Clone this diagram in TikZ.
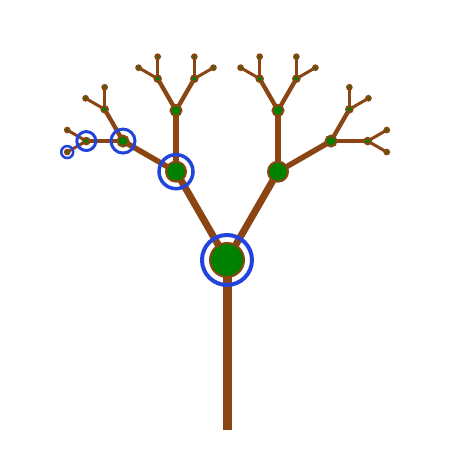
\documentclass[tikz,border=0pt]{standalone}
\usetikzlibrary{calc,backgrounds}
\definecolor{bark}{RGB}{139,69,19}
\definecolor{leafg}{RGB}{0,128,0}
\definecolor{ringb}{RGB}{34,68,221}
\begin{document}
\begin{tikzpicture}[x=1pt,y=1pt,
  knot/.style={circle,fill=leafg,draw=bark,inner sep=0pt},
  k0/.style={knot,minimum size=34pt,line width=2pt},
  k1/.style={knot,minimum size=20pt,line width=2pt},
  k2/.style={knot,minimum size=11pt,line width=2pt},
  k3/.style={knot,minimum size=6.5pt,line width=2pt},
  k4/.style={knot,minimum size=4.6pt,line width=2pt},
  br/.style={draw=bark,line cap=butt},
  b0/.style={br,line width=9pt},
  b1/.style={br,line width=7pt},
  b2/.style={br,line width=5.5pt},
  b3/.style={br,line width=4.3pt},
  b4/.style={br,line width=3pt},
  ring/.style={draw=ringb}]
\useasboundingbox (0,0) rectangle (457,448);
\coordinate (base) at (227,18);
% nodes
\node[k0] (n) at (227,188) {};
\node[k1] (nL) at ($(n)+(120:102)$) {};
\node[k1] (nR) at ($(n)+(60:102)$) {};
\node[k2] (nLL) at ($(nL)+(150:61.2)$) {};
\node[k2] (nLR) at ($(nL)+(90:61.2)$) {};
\node[k2] (nRL) at ($(nR)+(90:61.2)$) {};
\node[k2] (nRR) at ($(nR)+(30:61.2)$) {};
\node[k3] (nLLL) at ($(nLL)+(180:36.7)$) {};
\node[k3] (nLLR) at ($(nLL)+(120:36.7)$) {};
\node[k3] (nLRL) at ($(nLR)+(120:36.7)$) {};
\node[k3] (nLRR) at ($(nLR)+(60:36.7)$) {};
\node[k3] (nRLL) at ($(nRL)+(120:36.7)$) {};
\node[k3] (nRLR) at ($(nRL)+(60:36.7)$) {};
\node[k3] (nRRL) at ($(nRR)+(60:36.7)$) {};
\node[k3] (nRRR) at ($(nRR)+(0:36.7)$) {};
\node[k4] (nLLLL) at ($(nLLL)+(210:22)$) {};
\node[k4] (nLLLR) at ($(nLLL)+(150:22)$) {};
\node[k4] (nLLRL) at ($(nLLR)+(150:22)$) {};
\node[k4] (nLLRR) at ($(nLLR)+(90:22)$) {};
\node[k4] (nLRLL) at ($(nLRL)+(150:22)$) {};
\node[k4] (nLRLR) at ($(nLRL)+(90:22)$) {};
\node[k4] (nLRRL) at ($(nLRR)+(90:22)$) {};
\node[k4] (nLRRR) at ($(nLRR)+(30:22)$) {};
\node[k4] (nRLLL) at ($(nRLL)+(150:22)$) {};
\node[k4] (nRLLR) at ($(nRLL)+(90:22)$) {};
\node[k4] (nRLRL) at ($(nRLR)+(90:22)$) {};
\node[k4] (nRLRR) at ($(nRLR)+(30:22)$) {};
\node[k4] (nRRLL) at ($(nRRL)+(90:22)$) {};
\node[k4] (nRRLR) at ($(nRRL)+(30:22)$) {};
\node[k4] (nRRRL) at ($(nRRR)+(30:22)$) {};
\node[k4] (nRRRR) at ($(nRRR)+(-30:22)$) {};
% branches behind the nodes
\begin{scope}[on background layer]
\fill[white] (0,0) rectangle (457,448);
\draw[b0] (base) -- (n.center);
\draw[b1] (n.center) -- (nL.center);
\draw[b1] (n.center) -- (nR.center);
\draw[b2] (nL.center) -- (nLL.center);
\draw[b2] (nL.center) -- (nLR.center);
\draw[b2] (nR.center) -- (nRL.center);
\draw[b2] (nR.center) -- (nRR.center);
\draw[b3] (nLL.center) -- (nLLL.center);
\draw[b3] (nLL.center) -- (nLLR.center);
\draw[b3] (nLR.center) -- (nLRL.center);
\draw[b3] (nLR.center) -- (nLRR.center);
\draw[b3] (nRL.center) -- (nRLL.center);
\draw[b3] (nRL.center) -- (nRLR.center);
\draw[b3] (nRR.center) -- (nRRL.center);
\draw[b3] (nRR.center) -- (nRRR.center);
\draw[b4] (nLLL.center) -- (nLLLL.center);
\draw[b4] (nLLL.center) -- (nLLLR.center);
\draw[b4] (nLLR.center) -- (nLLRL.center);
\draw[b4] (nLLR.center) -- (nLLRR.center);
\draw[b4] (nLRL.center) -- (nLRLL.center);
\draw[b4] (nLRL.center) -- (nLRLR.center);
\draw[b4] (nLRR.center) -- (nLRRL.center);
\draw[b4] (nLRR.center) -- (nLRRR.center);
\draw[b4] (nRLL.center) -- (nRLLL.center);
\draw[b4] (nRLL.center) -- (nRLLR.center);
\draw[b4] (nRLR.center) -- (nRLRL.center);
\draw[b4] (nRLR.center) -- (nRLRR.center);
\draw[b4] (nRRL.center) -- (nRRLL.center);
\draw[b4] (nRRL.center) -- (nRRLR.center);
\draw[b4] (nRRR.center) -- (nRRRL.center);
\draw[b4] (nRRR.center) -- (nRRRR.center);
\end{scope}
% highlighted path
\draw[ring,line width=4pt] (n.center) circle (25);
\draw[ring,line width=3.5pt] (nL.center) circle (17);
\draw[ring,line width=3pt] (nLL.center) circle (12);
\draw[ring,line width=3pt] (nLLL.center) circle (9.5);
\draw[ring,line width=2.5pt] (nLLLL.center) circle (6);
\end{tikzpicture}
\end{document}
